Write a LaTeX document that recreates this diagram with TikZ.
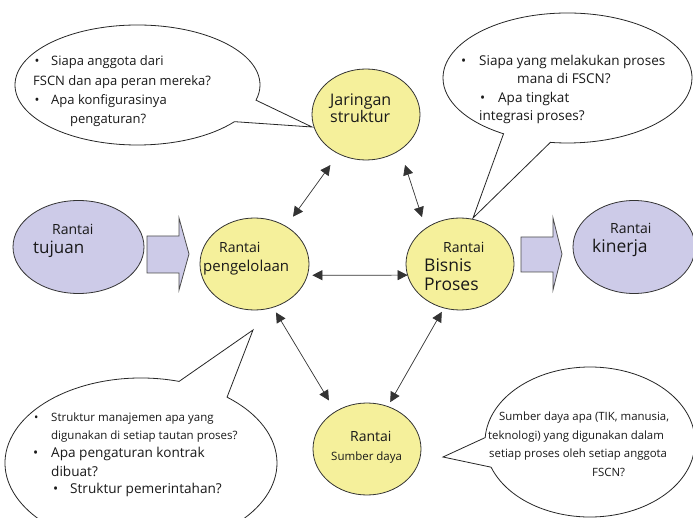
\documentclass[tikz,border=0pt]{standalone}
\usepackage{fontspec}
\setmainfont{Open Sans}
\usepackage{xcolor}
\usepackage{tikz}
\usetikzlibrary{shapes, shapes.callouts, arrows.meta, positioning, calc}

\definecolor{chainyellow}{RGB}{245,240,155}
\definecolor{chainpurple}{RGB}{205,203,232}
\newcommand{\bul}[1]{\makebox[#1][l]{\textbullet}}
\newcommand{\fs}[1]{\fontsize{#1}{#1}\selectfont}

\begin{document}
\begin{tikzpicture}[
        x=1pt, y=-1pt,
        chain/.style={ellipse, draw=black!80, fill=chainyellow, line width=0.8pt, inner sep=0pt, outer sep=0pt},
        goal/.style={ellipse, draw=black!80, fill=chainpurple, line width=0.8pt, inner sep=0pt, outer sep=0pt},
        bubble/.style={ellipse callout, draw=black!85, fill=white, line width=0.8pt, inner sep=0pt, callout pointer arc=23},
        bigarrow/.style={draw=black!70, fill=chainpurple, line width=0.8pt},
        link/.style={{Triangle[length=10pt,width=10pt]}-{Triangle[length=10pt,width=10pt]}, draw=black!80, line width=0.7pt},
        txt/.style={anchor=base west, inner sep=0pt, text=black!90}
    ]
        \useasboundingbox (0,0) rectangle (693,518);

        % Question bubbles
        \node[bubble, minimum width=245pt, minimum height=120pt, callout absolute pointer={(312,127)}] (qjaringan) at (137.5,85) {};
        \node[bubble, minimum width=249pt, minimum height=130pt, callout absolute pointer={(473,218)}] (qbisnis) at (567.5,78) {};
        \node[bubble, minimum width=272pt, minimum height=170pt, callout absolute pointer={(253,330)}] (qpengelolaan) at (141,463) {};
        \node[bubble, minimum width=210pt, minimum height=150pt, callout absolute pointer={(443,457)}] (qsumber) at (590,442) {};

        % Chains
        \node[chain, minimum width=108pt, minimum height=91pt] (jaringan) at (366,114.5) {};
        \node[chain, minimum width=109pt, minimum height=92pt] (pengelolaan) at (254.5,264) {};
        \node[chain, minimum width=108pt, minimum height=92pt] (bisnis) at (460,264) {};
        \node[chain, minimum width=108pt, minimum height=92pt] (sumber) at (367,449) {};
        \node[goal, minimum width=131pt, minimum height=93pt] (tujuan) at (78.5,247) {};
        \node[goal, minimum width=122pt, minimum height=93pt] (kinerja) at (634,247) {};

        % Block arrows
        \draw[bigarrow] (147,236) -- (179,236) -- (179,218) -- (189,254) -- (179,290) -- (179,273) -- (147,273) -- cycle;
        \draw[bigarrow] (521,237) -- (553,237) -- (553,218) -- (562,254) -- (553,290) -- (553,272) -- (521,272) -- cycle;

        % Links between chains
        \draw[link, shorten <=14pt, shorten >=12pt] (jaringan.-125.5) -- (pengelolaan.50);
        \draw[link, shorten <=16pt, shorten >=12pt] (jaringan.-46) -- (bisnis.134);
        \draw[link, shorten <=5pt] (pengelolaan.-12) -- (bisnis.-168);
        \draw[link, shorten <=6pt, shorten >=13pt] (pengelolaan.-67) -- (sumber.130);
        \draw[link, shorten <=4.5pt, shorten >=5pt] (bisnis.-110.6) -- (sumber.64);

        % Chain labels
        \node[txt, font=\fs{16}] (jaringan1) at (330,105.5) {Jaringan};
        \node[txt, font=\fs{16}] (jaringan2) at (330,122.5) {struktur};
        \node[txt, font=\fs{14}] (pengelolaan1) at (219,253) {Rantai};
        \node[txt, font=\fs{15}] (pengelolaan2) at (203,272) {pengelolaan};
        \node[txt, font=\fs{14}] (bisnis1) at (443,253) {Rantai};
        \node[txt, font=\fs{17.5}] (bisnis2) at (424,272) {Bisnis};
        \node[txt, font=\fs{17.5}] (bisnis3) at (424,291) {Proses};
        \node[txt, font=\fs{14}] (sumber1) at (350,441) {Rantai};
        \node[txt, font=\fs{11.5}] (sumber2) at (331,460) {Sumber daya};
        \node[txt, font=\fs{14}] (tujuan1) at (52,235) {Rantai};
        \node[txt, font=\fs{17}] (tujuan2) at (33,254) {tujuan};
        \node[txt, font=\fs{14}] (kinerja1) at (610,234) {Rantai};
        \node[txt, font=\fs{17.5}] (kinerja2) at (592,253) {kinerja};

        % Questions: jaringan struktur
        \node[txt, font=\fs{13}] (qj1) at (34.5,66) {\bul{16.5pt}Siapa anggota dari};
        \node[txt, font=\fs{13}] (qj2) at (33,85.5) {FSCN dan apa peran mereka?};
        \node[txt, font=\fs{13}] (qj3) at (34.5,105) {\bul{16.5pt}Apa konfigurasinya};
        \node[txt, font=\fs{13}] (qj4) at (70,124) {pengaturan?};

        % Questions: bisnis proses
        \node[txt, font=\fs{13.5}] (qb1) at (461,65.5) {\bul{18pt}Siapa yang melakukan proses};
        \node[txt, font=\fs{13.5}] (qb2) at (517,83.5) {mana di FSCN?};
        \node[txt, font=\fs{13.5}] (qb3) at (480,102.5) {\bul{18pt}Apa tingkat};
        \node[txt, font=\fs{13.5}] (qb4) at (479,120.5) {integrasi proses?};

        % Questions: pengelolaan
        \node[txt, font=\fs{11.5}] (qp1) at (34,421) {\bul{17pt}Struktur manajemen apa yang};
        \node[txt, font=\fs{11.5}] (qp2) at (51,439) {digunakan di setiap tautan proses?};
        \node[txt, font=\fs{13.6}] (qp3) at (33,457) {\bul{18pt}Apa pengaturan kontrak};
        \node[txt, font=\fs{13.6}] (qp4) at (51,476) {dibuat?};
        \node[txt, font=\fs{13.6}] (qp5) at (53,493) {\bul{17pt}Struktur pemerintahan?};

        % Questions: sumber daya
        \node[txt, font=\fs{11.4}] (qs1) at (499,420) {Sumber daya apa (TIK, manusia,};
        \node[txt, font=\fs{11.4}] (qs2) at (488,439) {teknologi) yang digunakan dalam};
        \node[txt, font=\fs{11.4}] (qs3) at (489,457) {setiap proses oleh setiap anggota};
        \node[txt, font=\fs{11.4}] (qs4) at (592,476) {FSCN?};

    \end{tikzpicture}
\end{document}
